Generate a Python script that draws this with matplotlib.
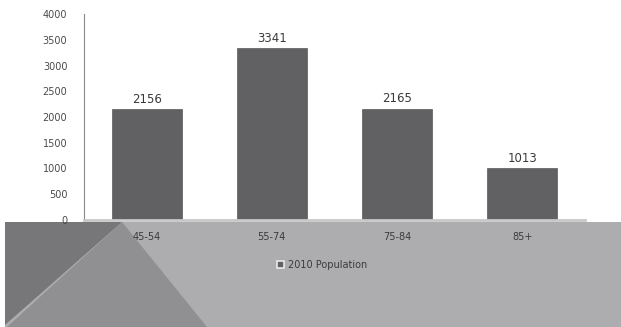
import matplotlib.pyplot as plt
from matplotlib.patches import Polygon, Rectangle

plt.rcParams['font.family'] = 'DejaVu Sans'
plt.rcParams['font.size'] = 7

age_groups = ['45-54', '55-74', '75-84', '85+']
population = [2156, 3341, 2165, 1013]
y_ticks = [0, 500, 1000, 1500, 2000, 2500, 3000, 3500, 4000]
series_name = '2010 Population'

fig = plt.figure(figsize=(6.21, 3.27), dpi=100)
fig.patch.set_facecolor('white')

# grey slide background under the plot, with the two darker wedges
fig.patches.append(Rectangle((5 / 621, 0), 1, 105 / 327, transform=fig.transFigure,
                             facecolor='#adadb0', edgecolor='none', zorder=0))
fig.patches.append(Polygon([(5 / 621, 105 / 327), (122 / 621, 105 / 327), (5 / 621, 2 / 327)],
                           closed=True, transform=fig.transFigure,
                           facecolor='#77777a', edgecolor='none', zorder=0))
fig.patches.append(Polygon([(122 / 621, 105 / 327), (207 / 621, 0), (7 / 621, 0)],
                           closed=True, transform=fig.transFigure,
                           facecolor='#909093', edgecolor='none', zorder=0))

ax = fig.add_axes([84 / 621, 107 / 327, 501 / 621, 206 / 327])
ax.set_zorder(2)
ax.set_facecolor('white')

x = range(len(age_groups))
bars = ax.bar(x, population, width=0.56, color='#616163', edgecolor='#5a5a5c',
              linewidth=0.5, label=series_name, zorder=2)

for b, v in zip(bars, population):
    ax.text(b.get_x() + b.get_width() / 2, v + 60, str(v), ha='center', va='bottom',
            fontsize=8.5, color='#3a3a3a')

ax.set_xlim(-0.5, 3.5)
ax.set_ylim(0, 4000)
ax.set_yticks(y_ticks)
ax.set_yticklabels([str(t) for t in y_ticks], color='#4a4a4a')
ax.tick_params(axis='y', length=0, pad=12)
ax.set_xticks(list(x))
ax.set_xticklabels(age_groups, color='#3a3a3a')
ax.tick_params(axis='x', length=0, pad=9)

for s in ['top', 'right']:
    ax.spines[s].set_visible(False)
ax.spines['left'].set_color('#8a8a8a')
ax.spines['left'].set_linewidth(0.8)
ax.spines['bottom'].set_color('#c8c8c8')
ax.spines['bottom'].set_linewidth(2)

leg = fig.legend(loc='center', bbox_to_anchor=(322 / 621, 62 / 327), frameon=False,
                 fontsize=7, handlelength=0.7, handleheight=0.7, handletextpad=0.4)
leg.set_zorder(3)
for h in leg.legend_handles:
    h.set_edgecolor('#e8e8e8')
    h.set_linewidth(1.2)
for t in leg.get_texts():
    t.set_color('#3a3a3a')

fig.savefig('out.png', dpi=100)
